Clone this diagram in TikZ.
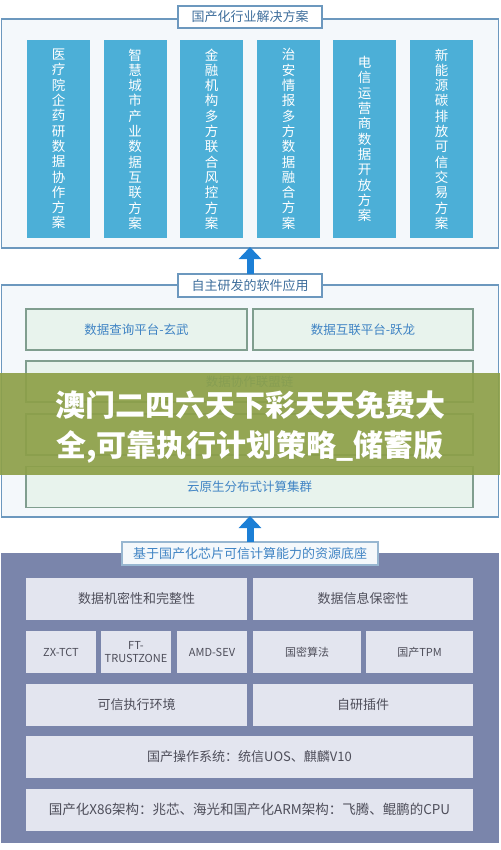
\documentclass[tikz,border=0pt]{standalone}
\usepackage{fontspec}
\setmainfont{Noto Sans CJK SC}
\usetikzlibrary{arrows.meta, positioning}
\definecolor{panelrim}{RGB}{108,152,190}
\definecolor{panelfill}{RGB}{244,248,251}
\definecolor{titletext}{RGB}{62,110,156}
\definecolor{colfill}{RGB}{76,175,215}
\definecolor{arrowblue}{RGB}{28,127,214}
\definecolor{appfill}{RGB}{232,243,237}
\definecolor{apprim}{RGB}{128,158,143}
\definecolor{apptext}{RGB}{64,132,196}
\definecolor{basefill}{RGB}{122,133,171}
\definecolor{baseboxfill}{RGB}{227,229,239}
\definecolor{basetext}{RGB}{78,78,90}
\definecolor{bannergreen}{RGB}{141,160,72}
\tikzstyle{panel}   = [rectangle, draw=panelrim, fill=panelfill, line width=1.2pt,
                       minimum width=497pt, inner sep=0pt, outer sep=0pt]
\tikzstyle{title}   = [rectangle, draw=panelrim, fill=white, line width=1.2pt,
                       minimum width=144pt, minimum height=22pt, outer sep=0pt,
                       text=titletext, font=\fontsize{13}{13}\selectfont]
\tikzstyle{column}  = [rectangle, fill=colfill, text=white, align=center,
                       minimum width=63pt, minimum height=198pt,
                       font=\fontsize{13.5}{15.3}\selectfont]
\tikzstyle{appbox}  = [rectangle, draw=apprim, fill=appfill, line width=1.1pt,
                       minimum height=41pt, text=apptext, font=\fontsize{12.5}{12.5}\selectfont]
\tikzstyle{basebox} = [rectangle, fill=baseboxfill, minimum height=42pt, align=center,
                       text=basetext, font=\fontsize{13}{13}\selectfont]
\tikzstyle{chipbox} = [basebox, font=\fontsize{11}{13}\selectfont]
\tikzstyle{uparrow} = [-{Triangle[width=22pt,length=12pt]}, line width=7pt, draw=arrowblue]

\begin{document}
\begin{tikzpicture}[x=1pt, y=-1pt]
  \useasboundingbox (0,0) rectangle (500,850);

  % Top layer: industry solutions
  \node (toppanel) [panel, minimum height=229pt] at (250,133.5) {};
  \node (ttitle)   [title] at (250,17) {国产化行业解决方案};
  \node (med)  [column] at (58.5,139)  {医\\疗\\院\\企\\药\\研\\数\\据\\协\\作\\方\\案};
  \node (city) [column] at (135,139)   {智\\慧\\城\\市\\产\\业\\数\\据\\互\\联\\方\\案};
  \node (fin)  [column] at (211.5,139) {金\\融\\机\\构\\多\\方\\联\\合\\风\\控\\方\\案};
  \node (sec)  [column] at (288.5,139) {治\\安\\情\\报\\多\\方\\数\\据\\融\\合\\方\\案};
  \node (tel)  [column] at (364.5,139) {电\\信\\运\\营\\商\\数\\据\\开\\放\\方\\案};
  \node (ene)  [column] at (441.5,139) {新\\能\\源\\碳\\排\\放\\可\\信\\交\\易\\方\\案};

  % Middle layer: own software
  \node (midpanel) [panel, minimum height=232pt] at (250,401) {};
  \node (mtitle)   [title, minimum height=23pt] at (250,285.5) {自主研发的软件应用};
  \node (query)  [appbox, minimum width=221pt] at (136.5,329.5) {数据查询平台-玄武};
  \node (link)   [appbox, minimum width=220pt] at (363,329.5)   {数据互联平台-跃龙};
  \node (chain)  [appbox, minimum width=447pt] at (249.5,381.5) {数据协作联盟链};
  \node (hidden) [appbox, minimum width=447pt] at (249.5,434.5) {};
  \node (cloud)  [appbox, minimum width=447pt] at (249.5,487)   {云原生分布式计算集群};

  % Bottom layer: resource base
  \node (basepanel) [panel, draw=none, fill=basefill, minimum width=498pt, minimum height=290pt] at (250,698) {};
  \node (btitle) [title, draw=panelrim!70, fill=panelfill, minimum width=256pt, minimum height=23pt,
                  text=apptext] at (250,553.5) {基于国产化芯片可信计算能力的资源底座};
  \node (integ)  [basebox, minimum width=221pt] at (136.5,599) {数据机密性和完整性};
  \node (secret) [basebox, minimum width=220pt] at (363,599)   {数据信息保密性};
  \node (zx)     [chipbox, minimum width=70pt]  at (61,652)    {ZX-TCT};
  \node (ft)     [chipbox, minimum width=70pt]  at (136,652)   {FT-\\TRUSTZONE};
  \node (amd)    [chipbox, minimum width=70pt]  at (212,652)   {AMD-SEV};
  \node (gm)     [chipbox, minimum width=108pt] at (307,652)   {国密算法};
  \node (tpm)    [chipbox, minimum width=107pt] at (419.5,652) {国产TPM};
  \node (tee)    [basebox, minimum width=221pt] at (136.5,704.5) {可信执行环境};
  \node (plugin) [basebox, minimum width=220pt] at (363,704.5)   {自研插件};
  \node (os)     [basebox, minimum width=447pt] at (249.5,757)   {国产操作系统：统信UOS、麒麟V10};
  \node (cpu)    [basebox, minimum width=447pt, font=\fontsize{13.5}{13.5}\selectfont] at (249.5,809.5)
                 {国产化X86架构：兆芯、海光和国产化ARM架构：飞腾、鲲鹏的CPU};

  % Arrows between layers
  \draw [uparrow, shorten >=-1pt] (mtitle.north) -- (toppanel.south);
  \draw [uparrow, shorten >=-1pt] (btitle.north) -- (midpanel.south);

  % Overlay banner
  \fill [bannergreen, opacity=0.92] (0,373) rectangle (500,475);
  \node (banner) [text=white, align=center, font=\fontsize{30}{40}\bfseries] at (250,427)
        {澳门二四六天下彩天天免费大\\全,可靠执行计划策略\_储蓄版};
\end{tikzpicture}
\end{document}
